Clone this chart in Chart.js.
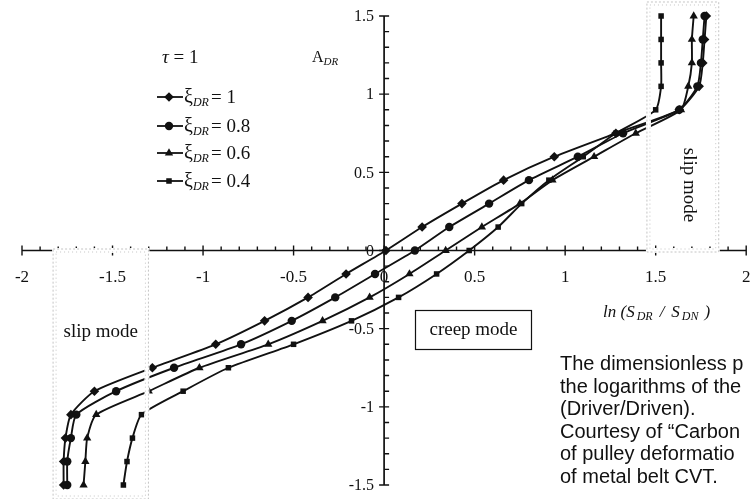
<!DOCTYPE html>
<html>
<head>
<meta charset="utf-8">
<script src="https://cdn.jsdelivr.net/npm/chart.js@4"></script>
<style>
  html, body { margin: 0; padding: 0; background: #fff; }
  #wrap { width: 751px; height: 499px; }
</style>
</head>
<body>
<div id="wrap"><canvas id="beltChart" width="751" height="499"></canvas></div>
<script>
// A_DR levels shared by every curve
const aLevels = [-1.5, -1.35, -1.2, -1.05, -0.9, -0.75, -0.6, -0.45, -0.3, -0.15, 0,
                 0.15, 0.3, 0.45, 0.6, 0.75, 0.9, 1.05, 1.2, 1.35, 1.5];

// ln(S_DR / S_DN) for each xi_DR
const lnXi10 = [-1.77, -1.77, -1.76, -1.73, -1.60, -1.28, -0.93, -0.66, -0.42, -0.21, 0.01,
                0.21, 0.43, 0.66, 0.94, 1.28, 1.63, 1.74, 1.76, 1.77, 1.78];
const lnXi08 = [-1.75, -1.75, -1.73, -1.70, -1.48, -1.16, -0.79, -0.51, -0.27, -0.05, 0.17,
                0.36, 0.58, 0.80, 1.07, 1.32, 1.63, 1.73, 1.75, 1.76, 1.77];
const lnXi06 = [-1.66, -1.65, -1.64, -1.59, -1.30, -1.02, -0.64, -0.34, -0.08, 0.14, 0.34,
                0.54, 0.75, 0.93, 1.16, 1.39, 1.64, 1.68, 1.70, 1.70, 1.71];
const lnXi04 = [-1.44, -1.42, -1.39, -1.34, -1.11, -0.86, -0.50, -0.18, 0.08, 0.29, 0.47,
                0.63, 0.76, 0.91, 1.10, 1.28, 1.50, 1.53, 1.53, 1.53, 1.53];

const xiLabels = ['1', '0.8', '0.6', '0.4'];
const xiMarkers = ['rectRot', 'circle', 'triangle', 'rect'];
const xTickLabels = [-2, -1.5, -1, -0.5, 0, 0.5, 1, 1.5, 2];
const yTickLabels = [-1.5, -1, -0.5, 0, 0.5, 1, 1.5];

const noteLines = [
  'The dimensionless p',
  'the logarithms of the',
  '(Driver/Driven).',
  'Courtesy of \u201CCarbon',
  'of pulley deformatio',
  'of metal belt CVT.'
];

const SERIF = '"Liberation Serif", "DejaVu Serif", serif';
const SANS = '"Liberation Sans", Arial, sans-serif';

function toPoints(xs) {
  return xs.map((v, i) => ({ x: v, y: aLevels[i] }));
}

const seriesX = [lnXi10, lnXi08, lnXi06, lnXi04];
const markerRadius = [4.8, 4.2, 4.8, 3.9];

const datasets = seriesX.map((xs, i) => ({
  label: 'xi_DR = ' + xiLabels[i],
  data: toPoints(xs),
  showLine: true,
  borderColor: '#111',
  borderWidth: 1.9,
  backgroundColor: '#111',
  pointBackgroundColor: '#111',
  pointBorderColor: '#111',
  pointBorderWidth: 0,
  pointStyle: xiMarkers[i],
  pointRadius: markerRadius[i],
  tension: 0.2,
  clip: false
}));

// text with a lowered, smaller, italic subscript
function drawSubText(ctx, parts, x, y) {
  let cx = x;
  parts.forEach(p => {
    ctx.font = p.font;
    ctx.fillText(p.text, cx, y + (p.dy || 0));
    cx += ctx.measureText(p.text).width + (p.gap || 0);
  });
}

function drawBox(ctx, left, top, right, bottom) {
  ctx.save();
  ctx.setLineDash([]);
  ctx.strokeStyle = '#fff';
  ctx.lineWidth = 5;
  ctx.strokeRect(left, top, right - left, bottom - top);
  ctx.strokeStyle = '#c4c4c4';
  ctx.lineWidth = 1;
  ctx.setLineDash([2, 2]);
  ctx.strokeRect(left - 1.5, top - 1.5, right - left + 3, bottom - top + 3);
  ctx.setLineDash([1, 3]);
  ctx.strokeRect(left + 1.5, top + 1.5, right - left - 3, bottom - top - 3);
  ctx.restore();
}

const axesPlugin = {
  id: 'crossAxes',
  beforeDatasetsDraw(chart) {
    const { ctx, scales: { x, y } } = chart;
    const x0 = x.getPixelForValue(0);
    const y0 = y.getPixelForValue(0);
    ctx.save();
    ctx.strokeStyle = '#111';
    ctx.lineWidth = 1.7;
    ctx.beginPath();
    ctx.moveTo(x.left, y0); ctx.lineTo(x.right, y0);
    ctx.moveTo(x0, y.top); ctx.lineTo(x0, y.bottom);
    ctx.stroke();

    // minor ticks every 0.1, major ticks every 0.5
    ctx.lineWidth = 1.4;
    ctx.beginPath();
    for (let i = -20; i <= 20; i++) {
      const px = x.getPixelForValue(i / 10);
      const major = i % 5 === 0;
      ctx.moveTo(px, y0 - (major ? 5 : 4));
      ctx.lineTo(px, y0 + (major ? 5 : 0));
    }
    for (let i = -15; i <= 15; i++) {
      const py = y.getPixelForValue(i / 10);
      const major = i % 5 === 0;
      ctx.moveTo(x0 - (major ? 5 : 0), py);
      ctx.lineTo(x0 + 5, py);
    }
    ctx.stroke();

    ctx.fillStyle = '#111';
    ctx.font = '17px ' + SERIF;
    ctx.textAlign = 'center';
    ctx.textBaseline = 'middle';
    xTickLabels.forEach(v => {
      ctx.fillText(String(v), x.getPixelForValue(v), y0 + 27);
    });
    ctx.font = '16px ' + SERIF;
    ctx.textAlign = 'right';
    yTickLabels.forEach(v => {
      ctx.fillText(String(v), x0 - 10, y.getPixelForValue(v) + 1);
    });
    ctx.restore();
  },
  afterDatasetsDraw(chart) {
    const { ctx, scales: { x, y } } = chart;

    // slip-mode regions
    const lb = [x.getPixelForValue(-1.82), y.getPixelForValue(0), x.getPixelForValue(-1.31), y.getPixelForValue(-1.58)];
    const rb = [x.getPixelForValue(1.46), y.getPixelForValue(1.58), x.getPixelForValue(1.84), y.getPixelForValue(0)];
    drawBox(ctx, lb[0], lb[1], lb[2], lb[3]);
    drawBox(ctx, rb[0], rb[1], rb[2], rb[3]);

    ctx.save();
    ctx.fillStyle = '#111';
    ctx.textBaseline = 'alphabetic';
    ctx.textAlign = 'center';
    ctx.font = '19px ' + SERIF;
    ctx.fillText('slip mode', (lb[0] + lb[2]) / 2, 337);

    ctx.save();
    ctx.translate(689, 185);
    ctx.rotate(Math.PI / 2);
    ctx.textBaseline = 'middle';
    ctx.fillText('slip mode', 0, 0);
    ctx.restore();

    // creep-mode label
    ctx.strokeStyle = '#111';
    ctx.lineWidth = 1.2;
    ctx.strokeRect(415.5, 310.5, 116, 39);
    ctx.textBaseline = 'middle';
    ctx.fillText('creep mode', 473.5, 330);

    ctx.textAlign = 'left';
    ctx.textBaseline = 'alphabetic';

    // tau and axis names
    drawSubText(ctx, [
      { text: '\u03C4', font: 'italic 19px ' + SERIF },
      { text: ' = 1', font: '19px ' + SERIF }
    ], 162, 63);
    drawSubText(ctx, [
      { text: 'A', font: '16px ' + SERIF },
      { text: 'DR', font: 'italic 11px ' + SERIF, dy: 3 }
    ], 312, 62);
    drawSubText(ctx, [
      { text: 'ln (S', font: 'italic 17px ' + SERIF, gap: 2 },
      { text: 'DR', font: 'italic 12px ' + SERIF, dy: 3, gap: 7 },
      { text: '/', font: 'italic 17px ' + SERIF, gap: 7 },
      { text: 'S', font: 'italic 17px ' + SERIF, gap: 2 },
      { text: 'DN', font: 'italic 12px ' + SERIF, dy: 3, gap: 6 },
      { text: ')', font: 'italic 17px ' + SERIF }
    ], 603, 317);

    // legend
    const rowY = [97, 126, 153, 181];
    xiLabels.forEach((lab, i) => {
      const ly = rowY[i];
      ctx.beginPath();
      ctx.lineWidth = 1.8;
      ctx.moveTo(157, ly); ctx.lineTo(183, ly);
      ctx.stroke();
      Chart.helpers.drawPoint(ctx, {
        pointStyle: xiMarkers[i], radius: markerRadius[i], rotation: 0, borderWidth: 0
      }, 169, ly);
      drawSubText(ctx, [
        { text: '\u03BE', font: '20px ' + SERIF },
        { text: 'DR', font: 'italic 12px ' + SERIF, dy: 3, gap: 2 },
        { text: '= ' + lab, font: '19px ' + SERIF }
      ], 184, ly + 6);
    });

    // caption at the right
    ctx.font = '20px ' + SANS;
    noteLines.forEach((line, i) => {
      ctx.fillText(line, 560, 370 + i * 22.5);
    });
    ctx.restore();
  }
};

new Chart(document.getElementById('beltChart'), {
  type: 'scatter',
  data: { datasets: datasets },
  options: {
    responsive: false,
    animation: false,
    devicePixelRatio: 1,
    layout: { padding: { left: 22, right: 0, top: 16, bottom: 14 } },
    plugins: { legend: { display: false }, tooltip: { enabled: false } },
    scales: {
      x: { type: 'linear', min: -2, max: 2, display: false },
      y: { type: 'linear', min: -1.5, max: 1.5, display: false }
    }
  },
  plugins: [axesPlugin]
});
</script>
</body>
</html>
